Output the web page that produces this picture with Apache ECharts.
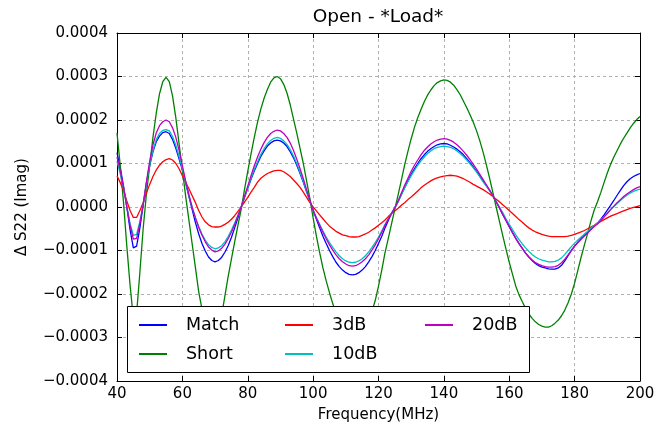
<!DOCTYPE html>
<html>
<head>
<meta charset="utf-8">
<script src="https://cdn.jsdelivr.net/npm/echarts@6/dist/echarts.min.js"></script>
<style>
  html, body { margin: 0; padding: 0; background: #fff; }
  #chart { width: 662px; height: 433px; }
</style>
</head>
<body>
<div id="chart"></div>
<script>
// Frequency samples (MHz)
const freq = [40,41,42,43,44,45,46,47,48,49,
  50,51,52,53,54,55,56,57,58,59,
  60,61,62,63,64,65,66,67,68,69,
  70,71,72,73,74,75,76,77,78,79,
  80,81,82,83,84,85,86,87,88,89,
  90,91,92,93,94,95,96,97,98,99,
  100,101,102,103,104,105,106,107,108,109,
  110,111,112,113,114,115,116,117,118,119,
  120,121,122,123,124,125,126,127,128,129,
  130,131,132,133,134,135,136,137,138,139,
  140,141,142,143,144,145,146,147,148,149,
  150,151,152,153,154,155,156,157,158,159,
  160,161,162,163,164,165,166,167,168,169,
  170,171,172,173,174,175,176,177,178,179,
  180,181,182,183,184,185,186,187,188,189,
  190,191,192,193,194,195,196,197,198,199,200];

// Values in units of 1e-4 (ΔS22 imag)
const matchE4 = [1.25,0.9,0.48,0.0,-0.52,-0.94,-0.9,-0.48,0.04,0.54,
  0.95,1.27,1.5,1.63,1.71,1.73,1.69,1.55,1.35,1.1,
  0.85,0.55,0.24,-0.06,-0.36,-0.62,-0.84,-1.01,-1.15,-1.23,
  -1.26,-1.23,-1.16,-1.04,-0.89,-0.7,-0.48,-0.25,0.0,0.22,
  0.43,0.64,0.83,1.0,1.16,1.29,1.4,1.47,1.52,1.54,
  1.52,1.47,1.39,1.27,1.13,0.96,0.77,0.57,0.35,0.14,
  -0.07,-0.28,-0.48,-0.67,-0.84,-1.0,-1.14,-1.27,-1.37,-1.45,
  -1.51,-1.55,-1.56,-1.55,-1.51,-1.45,-1.37,-1.26,-1.14,-1.0,
  -0.84,-0.67,-0.48,-0.31,-0.15,-0.02,0.12,0.29,0.45,0.6,
  0.75,0.88,1.0,1.11,1.2,1.28,1.34,1.39,1.43,1.45,
  1.46,1.45,1.42,1.38,1.33,1.27,1.2,1.11,1.02,0.92,
  0.82,0.71,0.6,0.49,0.38,0.25,0.12,-0.02,-0.17,-0.31,
  -0.45,-0.59,-0.72,-0.84,-0.95,-1.06,-1.15,-1.23,-1.3,-1.35,
  -1.38,-1.4,-1.42,-1.43,-1.43,-1.4,-1.34,-1.24,-1.12,-1.0,
  -0.9,-0.81,-0.72,-0.65,-0.58,-0.51,-0.44,-0.37,-0.28,-0.18,
  -0.07,0.04,0.15,0.27,0.38,0.49,0.58,0.65,0.7,0.74,0.77];

const shortE4 = [1.7,0.95,0.1,-0.9,-1.8,-2.55,-2.45,-1.5,-0.5,0.3,
  0.95,1.6,2.15,2.6,2.88,2.98,2.88,2.55,2.05,1.45,
  0.85,0.25,-0.3,-0.85,-1.4,-1.95,-2.35,-2.65,-2.85,-2.95,
  -2.95,-2.8,-2.5,-2.05,-1.6,-1.2,-0.8,-0.42,-0.05,0.4,
  0.82,1.22,1.6,1.95,2.25,2.5,2.7,2.87,2.97,3.0,
  2.95,2.82,2.62,2.35,2.02,1.7,1.35,1.0,0.6,0.2,
  -0.25,-0.67,-1.05,-1.4,-1.7,-1.97,-2.22,-2.45,-2.63,-2.78,
  -2.9,-2.98,-3.0,-2.98,-2.93,-2.85,-2.73,-2.58,-2.4,-2.15,
  -1.82,-1.45,-1.05,-0.72,-0.38,-0.05,0.28,0.62,0.97,1.28,
  1.57,1.83,2.05,2.24,2.42,2.57,2.69,2.79,2.86,2.9,
  2.92,2.91,2.87,2.8,2.7,2.58,2.43,2.28,2.12,1.95,
  1.75,1.52,1.26,0.97,0.66,0.33,0.0,-0.33,-0.65,-0.97,
  -1.27,-1.55,-1.82,-2.02,-2.18,-2.33,-2.46,-2.56,-2.64,-2.7,
  -2.74,-2.76,-2.76,-2.73,-2.67,-2.6,-2.5,-2.37,-2.2,-2.0,
  -1.75,-1.45,-1.15,-0.87,-0.6,-0.32,-0.07,0.12,0.33,0.56,
  0.78,0.98,1.15,1.3,1.45,1.58,1.7,1.82,1.92,2.01,2.08];

const db3E4 = [0.72,0.56,0.38,0.14,-0.08,-0.24,-0.24,-0.08,0.1,0.32,
  0.52,0.7,0.85,0.96,1.04,1.09,1.11,1.08,1.0,0.88,
  0.72,0.57,0.42,0.26,0.1,-0.08,-0.23,-0.34,-0.41,-0.45,
  -0.46,-0.46,-0.44,-0.4,-0.35,-0.28,-0.2,-0.1,0.0,0.11,
  0.22,0.34,0.45,0.57,0.66,0.72,0.77,0.8,0.83,0.84,
  0.84,0.81,0.76,0.7,0.62,0.54,0.45,0.34,0.22,0.1,
  0.0,-0.09,-0.18,-0.27,-0.36,-0.44,-0.5,-0.56,-0.6,-0.64,
  -0.66,-0.68,-0.69,-0.69,-0.68,-0.65,-0.62,-0.58,-0.53,-0.48,
  -0.42,-0.36,-0.3,-0.22,-0.15,-0.09,-0.03,0.04,0.1,0.17,
  0.23,0.3,0.37,0.44,0.5,0.55,0.6,0.64,0.67,0.69,
  0.71,0.72,0.73,0.72,0.71,0.68,0.65,0.61,0.57,0.52,
  0.48,0.44,0.4,0.35,0.3,0.24,0.18,0.12,0.05,-0.01,
  -0.08,-0.15,-0.22,-0.29,-0.35,-0.42,-0.48,-0.53,-0.57,-0.6,
  -0.63,-0.65,-0.67,-0.68,-0.68,-0.68,-0.68,-0.68,-0.67,-0.65,
  -0.63,-0.6,-0.57,-0.54,-0.5,-0.46,-0.42,-0.37,-0.33,-0.29,
  -0.25,-0.21,-0.18,-0.15,-0.12,-0.09,-0.06,-0.03,-0.01,0.01,0.03];

const db10E4 = [1.05,0.76,0.42,0.02,-0.38,-0.65,-0.63,-0.33,0.06,0.55,
  0.98,1.3,1.55,1.69,1.76,1.78,1.75,1.62,1.42,1.16,
  0.88,0.57,0.27,-0.01,-0.25,-0.45,-0.62,-0.76,-0.87,-0.93,
  -0.96,-0.94,-0.89,-0.8,-0.68,-0.53,-0.37,-0.19,0.0,0.23,
  0.45,0.66,0.86,1.04,1.21,1.34,1.45,1.53,1.58,1.6,
  1.58,1.52,1.44,1.32,1.17,1.0,0.8,0.59,0.36,0.14,
  -0.07,-0.24,-0.4,-0.55,-0.69,-0.82,-0.93,-1.03,-1.12,-1.19,
  -1.24,-1.27,-1.28,-1.27,-1.24,-1.19,-1.12,-1.03,-0.93,-0.82,
  -0.69,-0.55,-0.4,-0.27,-0.14,-0.01,0.12,0.28,0.44,0.58,
  0.72,0.84,0.96,1.06,1.15,1.23,1.29,1.34,1.37,1.39,
  1.4,1.39,1.37,1.34,1.29,1.23,1.16,1.08,0.99,0.9,
  0.8,0.69,0.58,0.48,0.37,0.25,0.13,0.0,-0.13,-0.27,
  -0.4,-0.52,-0.64,-0.75,-0.85,-0.94,-1.02,-1.09,-1.15,-1.19,
  -1.22,-1.24,-1.26,-1.26,-1.25,-1.22,-1.17,-1.09,-1.0,-0.91,
  -0.83,-0.76,-0.69,-0.62,-0.56,-0.49,-0.43,-0.37,-0.3,-0.22,
  -0.14,-0.06,0.01,0.08,0.15,0.21,0.27,0.32,0.36,0.39,0.41];

const db20E4 = [1.15,0.83,0.45,0.0,-0.43,-0.74,-0.72,-0.38,0.05,0.58,
  1.05,1.43,1.7,1.87,1.96,2.0,1.96,1.82,1.6,1.3,
  0.95,0.6,0.28,-0.01,-0.25,-0.47,-0.65,-0.8,-0.92,-0.99,
  -1.03,-1.01,-0.95,-0.86,-0.73,-0.58,-0.4,-0.2,0.0,0.24,
  0.48,0.72,0.95,1.15,1.33,1.48,1.6,1.69,1.74,1.77,
  1.75,1.69,1.6,1.47,1.3,1.1,0.88,0.65,0.4,0.16,
  -0.08,-0.26,-0.42,-0.58,-0.73,-0.87,-0.99,-1.1,-1.19,-1.26,
  -1.31,-1.35,-1.36,-1.35,-1.31,-1.26,-1.19,-1.1,-0.99,-0.87,
  -0.73,-0.58,-0.42,-0.28,-0.15,-0.01,0.14,0.32,0.5,0.66,
  0.82,0.96,1.08,1.2,1.3,1.38,1.45,1.5,1.54,1.56,
  1.57,1.56,1.53,1.49,1.43,1.36,1.28,1.19,1.09,0.98,
  0.87,0.75,0.63,0.51,0.39,0.26,0.12,-0.02,-0.17,-0.31,
  -0.45,-0.59,-0.72,-0.84,-0.95,-1.06,-1.15,-1.22,-1.28,-1.32,
  -1.35,-1.37,-1.38,-1.38,-1.37,-1.34,-1.28,-1.2,-1.1,-1.0,
  -0.9,-0.82,-0.74,-0.67,-0.6,-0.52,-0.45,-0.39,-0.32,-0.23,
  -0.15,-0.06,0.02,0.1,0.17,0.24,0.3,0.35,0.4,0.44,0.47];

const seriesNames = ['Match','Short','3dB','10dB','20dB'];
const seriesColors = ['#0000ff','#008000','#ff0000','#00bfbf','#bf00bf'];
const seriesValues = [matchE4, shortE4, db3E4, db10E4, db20E4];
const UNIT = 1e-4;

const FONT = 'DejaVu Sans';
const chart = echarts.init(document.getElementById('chart'), null, {renderer: 'canvas'});

function yFmt(v) {
  const s = Math.abs(v).toFixed(4);
  return (v < -1e-12 ? '\u2212' : '') + s;
}

const gridLine = { show: true, lineStyle: { color: '#b0b0b0', type: [3, 3], width: 1 } };

const legendCommon = {
  orient: 'vertical',
  icon: 'rect',
  itemWidth: 28,
  itemHeight: 2,
  itemGap: 9,
  z: 20,
  textStyle: { fontFamily: FONT, fontSize: 17.5, color: '#000', lineHeight: 20, padding: [0, 0, 0, 14] }
};

const option = {
  animation: false,
  backgroundColor: '#fff',
  color: seriesColors,
  title: {
    text: 'Open - *Load*',
    left: 373, top: 3, textAlign: 'center',
    textStyle: { fontFamily: FONT, fontSize: 18.5, fontWeight: 'normal', color: '#000' }
  },
  grid: { left: 117, right: 22, top: 33, bottom: 52, containLabel: false },
  xAxis: [{
    type: 'value', min: 40, max: 200, interval: 20, position: 'bottom',
    name: 'Frequency(MHz)', nameLocation: 'middle', nameGap: 27,
    nameTextStyle: { fontFamily: FONT, fontSize: 15, color: '#000' },
    axisLine: { show: true, onZero: false, lineStyle: { color: '#000', width: 1 } },
    axisTick: { show: true, inside: true, length: 5, lineStyle: { color: '#000' } },
    axisLabel: { fontFamily: FONT, fontSize: 15, color: '#000', margin: 6 },
    splitLine: gridLine
  }, {
    type: 'value', min: 40, max: 200, interval: 20, position: 'top',
    axisLine: { show: true, onZero: false, lineStyle: { color: '#000', width: 1 } },
    axisTick: { show: true, inside: true, length: 5, lineStyle: { color: '#000' } },
    axisLabel: { show: false }, splitLine: { show: false }
  }],
  yAxis: [{
    type: 'value', min: -0.0004, max: 0.0004, interval: 0.0001, position: 'left',
    name: '\u0394 S22 (Imag)', nameLocation: 'middle', nameGap: 87,
    nameTextStyle: { fontFamily: FONT, fontSize: 15, color: '#000' },
    axisLine: { show: true, onZero: false, lineStyle: { color: '#000', width: 1 } },
    axisTick: { show: true, inside: true, length: 5, lineStyle: { color: '#000' } },
    axisLabel: { fontFamily: FONT, fontSize: 15, color: '#000', margin: 9, formatter: yFmt },
    splitLine: gridLine
  }, {
    type: 'value', min: -0.0004, max: 0.0004, interval: 0.0001, position: 'right',
    axisLine: { show: true, onZero: false, lineStyle: { color: '#000', width: 1 } },
    axisTick: { show: true, inside: true, length: 5, lineStyle: { color: '#000' } },
    axisLabel: { show: false }, splitLine: { show: false }
  }],
  legend: [
    Object.assign({}, legendCommon, { data: ['Match', 'Short'], left: 134, top: 310 }),
    Object.assign({}, legendCommon, { data: ['3dB', '10dB'], left: 280, top: 310 }),
    Object.assign({}, legendCommon, { data: ['20dB'], left: 420, top: 310 })
  ],
  graphic: [{
    type: 'rect', z: 10,
    shape: { x: 127.5, y: 306.5, width: 402, height: 66 },
    style: { fill: '#fff', stroke: '#000', lineWidth: 1 }
  }],
  series: seriesNames.map((name, k) => ({
    name: name,
    type: 'line',
    xAxisIndex: 0, yAxisIndex: 0,
    showSymbol: false,
    smooth: false,
    lineStyle: { width: 1.3, color: seriesColors[k] },
    itemStyle: { color: seriesColors[k] },
    data: freq.map((f, i) => [f, seriesValues[k][i] * UNIT])
  }))
};

chart.setOption(option);
</script>
</body>
</html>
